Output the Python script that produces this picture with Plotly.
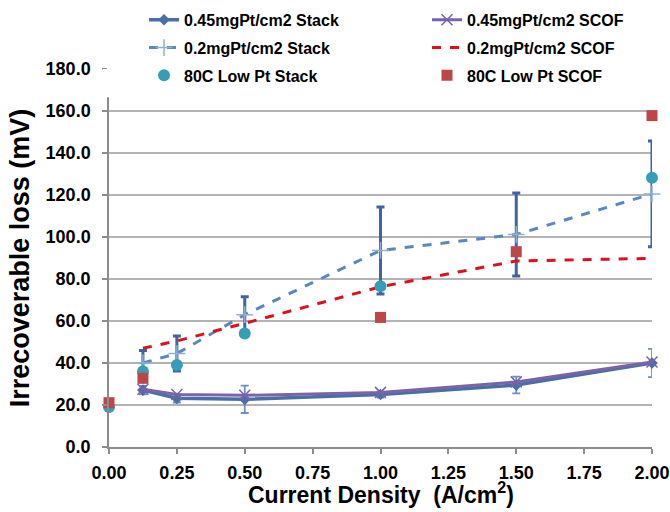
import plotly.graph_objects as go

# ---- data ----
x_main = [0.125, 0.25, 0.5, 1.0, 1.5, 2.0]

stack045 = [27.1, 23.2, 22.7, 25.0, 29.5, 40.0]
stack045_err = [2.0, 2.0, 6.5, 1.5, 4.0, 6.7]

scof045 = [27.5, 25.0, 24.6, 26.0, 31.0, 40.5]

stack02 = [40.0, 44.5, 63.0, 93.6, 101.2, 120.5]
stack02_err = [6.0, 8.3, 8.6, 20.7, 19.8, 25.2]

scof02 = [47.0, 50.5, 58.9, 76.3, 88.6, 89.8]

x_80c_stack = [0.0, 0.125, 0.25, 0.5, 1.0, 2.0]
lowpt_stack = [19.0, 35.9, 39.0, 54.1, 76.5, 128.2]

x_80c_scof = [0.0, 0.125, 1.0, 1.5, 2.0]
lowpt_scof = [21.1, 32.7, 61.7, 93.0, 157.8]

y_ticks = [0, 20, 40, 60, 80, 100, 120, 140, 160, 180]
x_ticks = [0, 0.25, 0.5, 0.75, 1.0, 1.25, 1.5, 1.75, 2.0]

x_title = "Current Density  (A/cm<sup>2</sup>)"
y_title = "Irrecoverable loss (mV)"

FONT = "Liberation Sans, Arial, sans-serif"

fig = go.Figure()

fig.add_trace(go.Scatter(
    x=x_main, y=stack045, name="0.45mgPt/cm2 Stack", mode="lines+markers",
    line=dict(color="#4A6EA8", width=3.5),
    marker=dict(symbol="diamond", size=9, color="#4A6EA8"),
    error_y=dict(type="data", array=stack045_err, color="#6E8FC6", thickness=1.8, width=4),
    cliponaxis=False, legend="legend", legendgroup="a",
))
fig.add_trace(go.Scatter(
    x=x_main, y=scof045, name="0.45mgPt/cm2 SCOF", mode="lines+markers",
    line=dict(color="#7A63A8", width=3),
    marker=dict(symbol="x-thin", size=11, line=dict(color="#7A63A8", width=1.5)),
    cliponaxis=False, legend="legend2", legendgroup="b",
))
fig.add_trace(go.Scatter(
    x=x_main, y=stack02, name="0.2mgPt/cm2 Stack", mode="lines+markers",
    line=dict(color="#5B87C0", width=3, dash="dash"),
    marker=dict(symbol="cross-thin", size=12, line=dict(color="#8FB0DA", width=1.5)),
    error_y=dict(type="data", array=stack02_err, color="#3F64A0", thickness=3, width=4),
    cliponaxis=False, legend="legend", legendgroup="c",
))
fig.add_trace(go.Scatter(
    x=x_main, y=scof02, name="0.2mgPt/cm2 SCOF", mode="lines",
    line=dict(color="#DD1020", width=3, dash="dash"),
    cliponaxis=False, legend="legend2", legendgroup="d",
))
fig.add_trace(go.Scatter(
    x=x_80c_stack, y=lowpt_stack, name="80C Low Pt Stack", mode="markers",
    marker=dict(symbol="circle", size=12, color="#369DB9"),
    cliponaxis=False, legend="legend", legendgroup="e",
))
fig.add_trace(go.Scatter(
    x=x_80c_scof, y=lowpt_scof, name="80C Low Pt SCOF", mode="markers",
    marker=dict(symbol="square", size=11, color="#BC4648"),
    cliponaxis=False, legend="legend2", legendgroup="f",
))

fig.add_shape(type="rect", xref="paper", yref="y", x0=-0.012, x1=1.03, y0=166.5, y1=183,
              fillcolor="white", line=dict(width=0), layer="above")

fig.add_annotation(text=x_title, xref="paper", yref="paper", x=0.5, y=-0.122,
                   xanchor="center", yanchor="middle", showarrow=False,
                   font=dict(family=FONT, size=23, weight="bold", color="black"))

legend_font = dict(family=FONT, size=16, weight="bold", color="black")
legend_common = dict(
    orientation="v", xanchor="left", y=1.175, yanchor="top",
    font=legend_font, bgcolor="rgba(0,0,0,0)", itemwidth=30, tracegroupgap=4,
)

fig.update_layout(
    width=670, height=512,
    margin=dict(l=109, r=18, t=69, b=65, autoexpand=False),
    paper_bgcolor="white", plot_bgcolor="white",
    font=dict(family=FONT, color="black"),
    showlegend=True,
    legend=dict(x=0.0645, **legend_common),
    legend2=dict(x=0.5856, **legend_common),
    xaxis=dict(
        range=[0, 2], tickvals=x_ticks, ticktext=[f"{v:.2f}" for v in x_ticks],
        showgrid=False, zeroline=False, automargin=True,
        showline=True, linecolor="#8C8C8C", linewidth=1.5,
        ticks="outside", ticklen=5, tickcolor="#8C8C8C", tickwidth=1.5,
        tickfont=dict(family=FONT, size=18, weight="bold"),
        ticklabelstandoff=4,
    ),
    yaxis=dict(
        range=[0, 180], tickvals=y_ticks, ticktext=[f"{v:.1f}" for v in y_ticks],
        showgrid=True, gridcolor="#B4B4B4", gridwidth=1.5, zeroline=False, automargin=True,
        showline=True, linecolor="#8C8C8C", linewidth=1.5,
        ticks="outside", ticklen=5, tickcolor="#8C8C8C", tickwidth=1.5,
        tickfont=dict(family=FONT, size=18, weight="bold"),
        ticklabelstandoff=8,
        title=dict(text=y_title,
                   font=dict(family=FONT, size=27, weight="bold"), standoff=8),
    ),
)

fig.write_html("out.html")
